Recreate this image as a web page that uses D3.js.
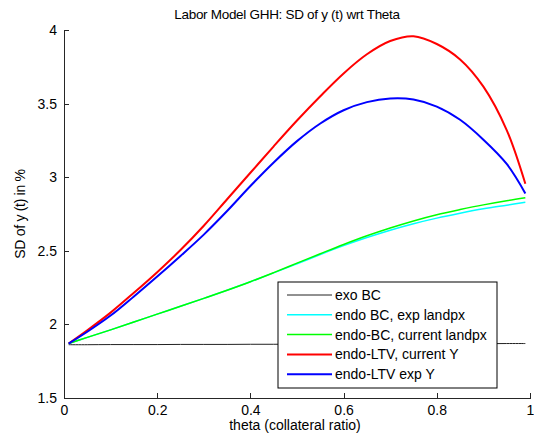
<!DOCTYPE html>
<html>
<head>
	<meta charset="utf-8" />
	<script src="https://d3js.org/d3.v7.min.js"></script>
	<style>
		body { margin: 0; background: #fff; }
		text { font-family: "Liberation Sans", Arial, sans-serif; font-size: 14px; fill: #000; }
		.axis path, .axis line { stroke: #262626; shape-rendering: crispEdges; }
	</style>
</head>
<body>
	<div id="chart"></div>
	<script>
		// theta values (collateral ratio)
		var theta = [0.01, 0.05, 0.10, 0.15, 0.20, 0.25, 0.30, 0.35, 0.40, 0.45, 0.50,
			0.55, 0.60, 0.65, 0.70, 0.75, 0.80, 0.85, 0.90, 0.95, 0.99];

		// SD of y(t) for each model
		var exoBC = [1.862, 1.862, 1.863, 1.863, 1.863, 1.864, 1.864, 1.864, 1.865, 1.865, 1.866,
			1.866, 1.867, 1.867, 1.867, 1.868, 1.868, 1.869, 1.869, 1.87, 1.87];
		var endoBCexp = [1.87, 1.912, 1.963, 2.016, 2.07, 2.123, 2.177, 2.232, 2.29, 2.35, 2.412,
			2.475, 2.535, 2.59, 2.64, 2.684, 2.722, 2.755, 2.785, 2.81, 2.83];
		var endoBCcur = [1.87, 1.912, 1.963, 2.016, 2.07, 2.123, 2.177, 2.232, 2.29, 2.352, 2.416,
			2.48, 2.543, 2.602, 2.655, 2.703, 2.745, 2.78, 2.812, 2.84, 2.86];
		var endoLTVcur = [1.87, 1.96, 2.08, 2.215, 2.355, 2.505, 2.67, 2.85, 3.03, 3.21, 3.385,
			3.55, 3.705, 3.835, 3.925, 3.958, 3.905, 3.80, 3.615, 3.32, 2.955];
		var endoLTVexp = [1.87, 1.95, 2.06, 2.19, 2.325, 2.465, 2.61, 2.77, 2.94, 3.10, 3.245,
			3.365, 3.455, 3.51, 3.535, 3.528, 3.48, 3.39, 3.255, 3.09, 2.89];

		var seriesNames = ["exo BC", "endo BC, exp landpx", "endo-BC, current landpx", "endo-LTV, current Y", "endo-LTV exp Y"];
		var seriesColors = ["#222222", "#00ffff", "#00ff00", "#ff0000", "#0000ff"];
		var seriesWidths = [1, 1.5, 1.5, 2, 2];
		var seriesValues = [exoBC, endoBCexp, endoBCcur, endoLTVcur, endoLTVexp];

		var xTicks = [0, 0.2, 0.4, 0.6, 0.8, 1];
		var yTicks = [1.5, 2, 2.5, 3, 3.5, 4];

		var margin = { top: 30, right: 4, bottom: 37, left: 64 },
			width = 534 - margin.left - margin.right,
			height = 435 - margin.top - margin.bottom;

		var svg = d3.select("#chart").append("svg")
			.attr("width", 534)
			.attr("height", 435);

		var g = svg.append("g")
			.attr("transform", "translate(" + margin.left + "," + margin.top + ")");

		var x = d3.scaleLinear().domain([0, 1]).range([0, width]);
		var y = d3.scaleLinear().domain([1.5, 4]).range([height, 0]);

		// axes, ticks pointing inward like Matlab
		g.append("g")
			.attr("class", "axis")
			.attr("transform", "translate(0," + height + ")")
			.call(d3.axisBottom(x).tickValues(xTicks).tickFormat(d3.format("")).tickSizeInner(-5).tickSizeOuter(0).tickPadding(7));

		g.append("g")
			.attr("class", "axis")
			.call(d3.axisLeft(y).tickValues(yTicks).tickFormat(d3.format("")).tickSizeInner(-5).tickSizeOuter(0).tickPadding(7));

		g.selectAll(".axis text").style("font-size", "14px").attr("fill", "#000");

		// lines
		var line = d3.line()
			.x(function (d, i) { return x(theta[i]); })
			.y(function (d) { return y(d); })
			.curve(d3.curveCatmullRom);

		seriesValues.forEach(function (vals, k) {
			g.append("path")
				.datum(vals)
				.attr("fill", "none")
				.attr("stroke", seriesColors[k])
				.attr("stroke-width", seriesWidths[k])
				.attr("d", line);
		});

		// title and labels
		svg.append("text")
			.attr("x", 287)
			.attr("y", 19)
			.attr("text-anchor", "middle")
			.style("font-size", "13.5px")
			.style("letter-spacing", "-0.3px")
			.text("Labor Model GHH: SD of y (t) wrt Theta");

		svg.append("text")
			.attr("x", 295)
			.attr("y", 430)
			.attr("text-anchor", "middle")
			.text("theta (collateral ratio)");

		svg.append("text")
			.attr("transform", "translate(25," + (margin.top + height / 2) + ") rotate(-90)")
			.attr("text-anchor", "middle")
			.style("letter-spacing", "-0.3px")
			.text("SD of y (t) in %");

		// legend
		var legend = svg.append("g").attr("transform", "translate(278,282)");
		legend.append("rect")
			.attr("width", 219)
			.attr("height", 106)
			.attr("fill", "#fff")
			.attr("stroke", "#000")
			.attr("stroke-width", 1);

		var item = legend.selectAll(".legend")
			.data(seriesNames)
			.enter().append("g")
			.attr("class", "legend")
			.attr("transform", function (d, i) { return "translate(0," + (13 + i * 19.8) + ")"; });

		item.append("line")
			.attr("x1", 9)
			.attr("x2", 54)
			.attr("stroke", function (d, i) { return seriesColors[i]; })
			.attr("stroke-width", function (d, i) { return seriesWidths[i]; });

		item.append("text")
			.attr("x", 57)
			.attr("dy", "0.35em")
			.text(function (d) { return d; });
	</script>
</body>
</html>
